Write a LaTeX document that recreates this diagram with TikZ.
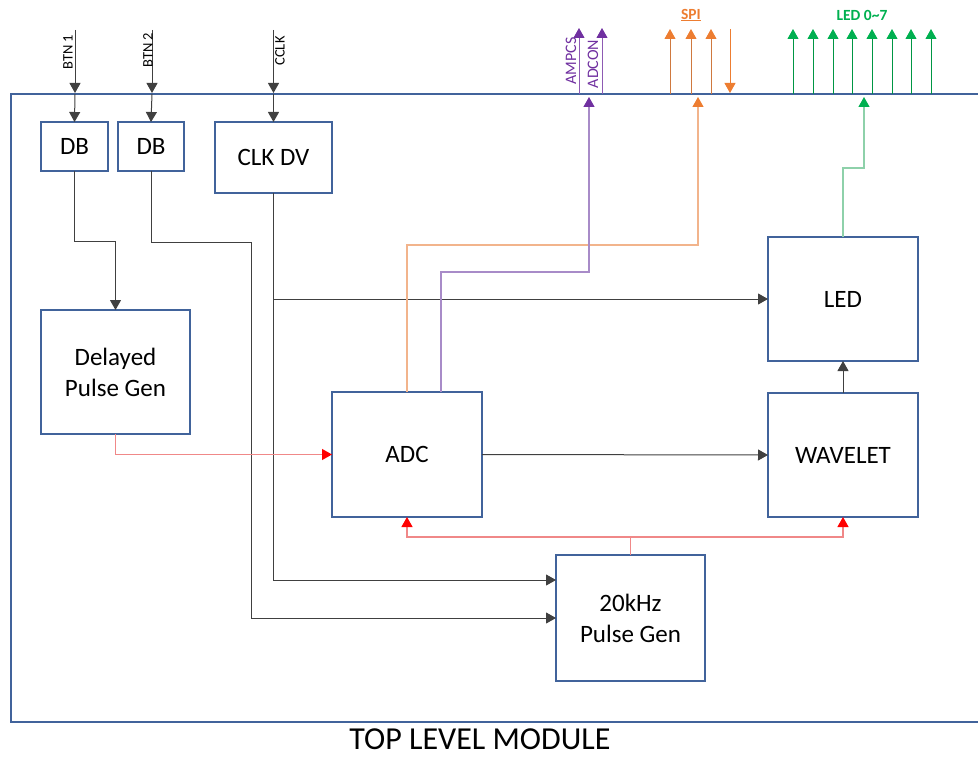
\documentclass[tikz,border=0pt]{standalone}
\usepackage{fontspec}
\setmainfont{Carlito}
\usetikzlibrary{arrows.meta,calc}
\definecolor{boxblue}{HTML}{41639B}
\definecolor{wiregray}{HTML}{404040}
\definecolor{myred}{HTML}{FF0000}
\definecolor{lightred}{HTML}{F08888}
\definecolor{myorange}{HTML}{ED7D31}
\definecolor{lightorange}{HTML}{F2B48C}
\definecolor{mypurple}{HTML}{7030A0}
\definecolor{lightpurple}{HTML}{A88BC8}
\definecolor{mygreen}{HTML}{00B050}
\definecolor{lightgreen}{HTML}{8ED1AA}
\begin{document}
\begin{tikzpicture}[x=1pt,y=-1pt,
  >={Triangle[length=10pt,width=11pt]},
  box/.style={draw=boxblue,line width=1.6pt,inner sep=0pt,outer sep=0pt,
    font=\fontsize{25}{30}\selectfont,align=center},
  wire/.style={draw=wiregray,line width=1pt},
  redwire/.style={draw=lightred,line width=1.2pt,-{Triangle[length=10pt,width=11pt,fill=myred,color=myred]}},
  orwire/.style={draw=lightorange,line width=1.2pt,-{Triangle[length=10pt,width=11pt,fill=myorange,color=myorange]}},
  puwire/.style={draw=lightpurple,line width=1.2pt,-{Triangle[length=10pt,width=11pt,fill=mypurple,color=mypurple]}},
  grwire/.style={draw=lightgreen,line width=1.2pt,-{Triangle[length=10pt,width=11pt,fill=mygreen,color=mygreen]}},
  sig/.style={font=\fontsize{14.5}{17}\selectfont,rotate=90,inner sep=0pt},
  hdr/.style={font=\bfseries\fontsize{15.5}{18}\selectfont,inner sep=0pt}
]
\useasboundingbox (0,0) rectangle (978,757);
% outer module border
\draw[boxblue,line width=1.6pt] (985,94) -- (11,94) -- (11,722) -- (985,722);

% blocks
\node[box,minimum width=67pt,minimum height=49pt] (db1) at (74.5,146.5) {DB};
\node[box,minimum width=66pt,minimum height=49pt] (db2) at (151,146.5) {DB};
\node[box,minimum width=117pt,minimum height=71pt] (clk) at (273.5,157.5) {CLK DV};
\node[box,minimum width=149pt,minimum height=124pt] (dpg) at (115.5,372) {Delayed\\[1pt]Pulse Gen};
\node[box,minimum width=150pt,minimum height=125pt] (adc) at (407,454.5) {ADC};
\node[box,minimum width=150pt,minimum height=124pt] (led) at (843,299) {LED};
\node[box,minimum width=150pt,minimum height=124pt] (wav) at (843,455) {WAVELET};
\node[box,minimum width=149pt,minimum height=126pt] (pg) at (630.5,618) {20kHz\\[1pt]Pulse Gen};

% helper coordinates
\coordinate (b1) at (75,94);
\coordinate (b2) at (152,94);
\coordinate (b3) at (273.5,94);
\coordinate (s1) at (75,30);
\coordinate (s2) at (152,30);
\coordinate (s3) at (273.5,30);
\coordinate (h241) at (0,241);
\coordinate (h242) at (251,242);
\coordinate (h580) at (0,580);
\coordinate (h537) at (0,537);
\coordinate (oBend) at (698,245);
\coordinate (oTip) at (698,97);
\coordinate (pStart) at (441,392);
\coordinate (pBend) at (589,272);
\coordinate (pTip) at (589,97);
\coordinate (gBend) at (864,168);
\coordinate (gTip) at (864,97);

% input pins
\foreach \i in {1,2,3}{
  \draw[wire,->] (s\i) -- ([yshift=1pt]b\i);
}
\draw[wire,->] (b1) -- (db1.north);
\draw[wire,->] (b2) -- (db2.north);
\draw[wire,->] (b3) -- (clk.north);
\node[sig,anchor=center] (lb1) at (68,52) {BTN 1};
\node[sig,anchor=center] (lb2) at (148,50) {BTN 2};
\node[sig,anchor=center] (lb3) at (280,51) {CCLK};

% internal wiring
\draw[wire,->] (db1.south) -- (db1.south |- h241) -| (dpg.north);
\draw[wire,->] (db2.south) |- (h242) |- (pg.west);
\draw[wire,->] (clk.south) |- (pg.west |- h580);
\draw[wire,->] (clk.south |- led.west) -- (led.west);
\draw[redwire] (dpg.south) |- (adc.west);
\draw[wire,->] (adc.east) -- (wav.west);
\draw[wire,->] (wav.north) -- (led.south);
\draw[draw=lightred,line width=1.2pt] (pg.north) -- (pg.north |- h537);
\draw[redwire] (pg.north |- h537) -| (adc.south);
\draw[redwire] (pg.north |- h537) -| (wav.south);
\draw[orwire] (adc.north) |- (oBend) -- (oTip);
\draw[puwire] (pStart) |- (pBend) -- (pTip);
\draw[grwire] (led.north) |- (gBend) -- (gTip);

% outputs above the border
\coordinate (a1) at (579,94);
\coordinate (a2) at (602,94);
\draw[mypurple!80,line width=1pt,-{Triangle[length=10pt,width=11pt,fill=mypurple,color=mypurple]}] (a1) -- (579,28);
\draw[mypurple!80,line width=1pt,-{Triangle[length=10pt,width=11pt,fill=mypurple,color=mypurple]}] (a2) -- (602,28);
\node[sig,text=mypurple,font=\fontsize{16}{18}\selectfont] (lamp) at (571,61) {AMPCS};
\node[sig,text=mypurple,font=\fontsize{16}{18}\selectfont] (ladc) at (593,64) {ADCON};

\foreach \x in {670,691,711}{
  \draw[myorange!85!black!90,line width=1pt,-{Triangle[length=10pt,width=11pt,fill=myorange,color=myorange]}] (\x,94) -- (\x,29);
}
\draw[myorange,line width=1pt,-{Triangle[length=10pt,width=11pt,fill=myorange,color=myorange]}] (730,29) -- (730,93);
\node[hdr,text=myorange] (spi) at (691,15) {\underline{SPI}};

\foreach \x in {793,813,833,852,872,892,911,931}{
  \draw[mygreen!85!black,line width=1pt,-{Triangle[length=10pt,width=11pt,fill=mygreen,color=mygreen]}] (\x,94) -- (\x,29);
}
\node[hdr,text=mygreen] (ledl) at (862,15) {LED 0\char"007E 7};

% title
\node[font=\fontsize{32}{36}\selectfont,inner sep=0pt,anchor=base] (title) at (480,749) {TOP LEVEL MODULE};
\end{tikzpicture}
\end{document}
